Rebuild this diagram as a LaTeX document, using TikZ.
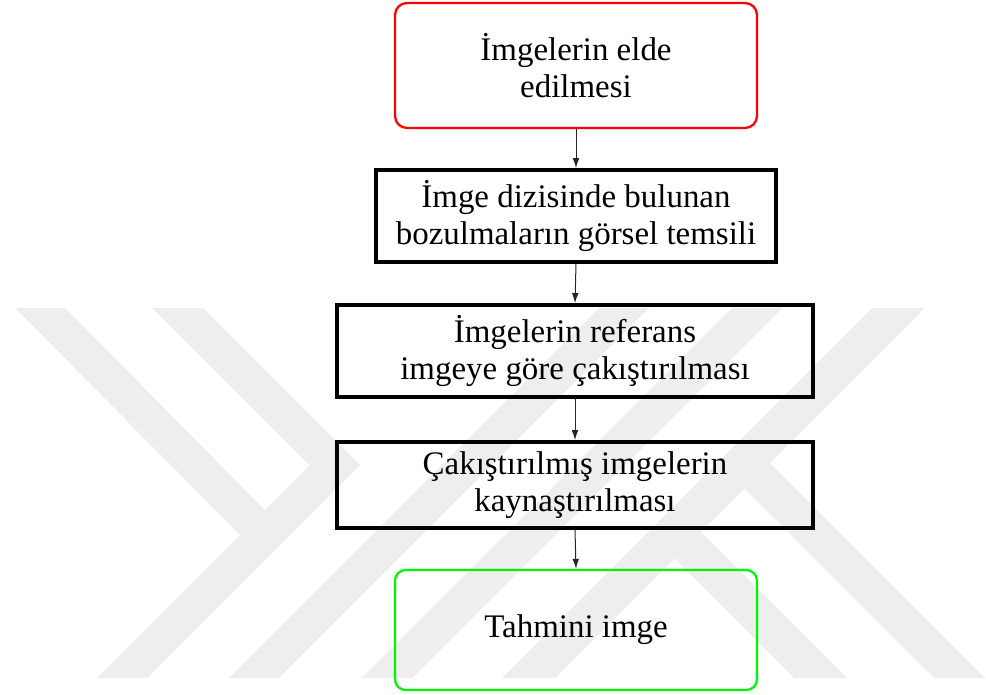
\documentclass[tikz,border=0pt]{standalone}
\usepackage{fontspec}
\setmainfont{Liberation Serif}
\usetikzlibrary{arrows.meta}
\newdimen\pxu \pxu=0.75pt
\definecolor{wm}{RGB}{238,238,238}
\definecolor{boxred}{RGB}{255,0,0}
\definecolor{boxgreen}{RGB}{0,245,0}
\begin{document}
\begin{tikzpicture}[x=0.75pt,y=-0.75pt,
  txt/.style={font=\fontsize{24.7}{28.2}\selectfont, align=center, inner sep=0pt},
  roundbox/.style={txt, draw, line width=1.7pt, rounded corners=9pt},
  flowbox/.style={txt, draw=black, line width=2.8pt},
  flowarrow/.style={-{Latex[length=7.5pt,width=5pt]}, line width=0.75pt, draw=black!85},
  wmark/.style={fill=wm, draw=none}]
\useasboundingbox (0,0) rectangle (986,695);
% watermark
\fill[wmark] (15,308) -- (65,308) -- (265,510) -- (309.5,465.5) -- (152,308) -- (203,308)
  -- (360,465) -- (147,678) -- (97,678) -- (240,535) -- cycle;
\fill[wmark] (599,308) -- (649,308) -- (279,678) -- (229,678) -- cycle;
\fill[wmark] (732,308) -- (782,308) -- (412,678) -- (362,678) -- cycle;
\fill[wmark] (872,308) -- (925,308) -- (555,678) -- (502,678) -- cycle;
\fill[wmark] (744.5,488.5) -- (770,463) -- (985,678) -- (934,678) -- cycle;
\fill[wmark] (674.5,558.5) -- (701,532) -- (847,678) -- (794,678) -- cycle;
% boxes
\node[roundbox, draw=boxred, minimum width=362\pxu, minimum height=125\pxu] (s1) at (576,65.5) {İmgelerin elde\\edilmesi};
\node[flowbox, minimum width=400\pxu, minimum height=92\pxu] (s2) at (576,216) {İmge dizisinde bulunan\\bozulmaların görsel temsili};
\node[flowbox, minimum width=476\pxu, minimum height=92\pxu] (s3) at (575,351) {İmgelerin referans\\imgeye göre çakıştırılması};
\node[flowbox, minimum width=476\pxu, minimum height=86\pxu] (s4) at (575,485) {Çakıştırılmış imgelerin\\kaynaştırılması};
\node[roundbox, draw=boxgreen, rounded corners=8pt, minimum width=362\pxu, minimum height=120\pxu] (s5) at (576,630) {Tahmini imge};
% arrows
\draw[flowarrow] (s1.south) -- (s2.north);
\draw[flowarrow] (s2.south) -- (s3.north);
\draw[flowarrow] (s3.south) -- (s4.north);
\draw[flowarrow] (s4.south) -- (s5.north);
\end{tikzpicture}
\end{document}
